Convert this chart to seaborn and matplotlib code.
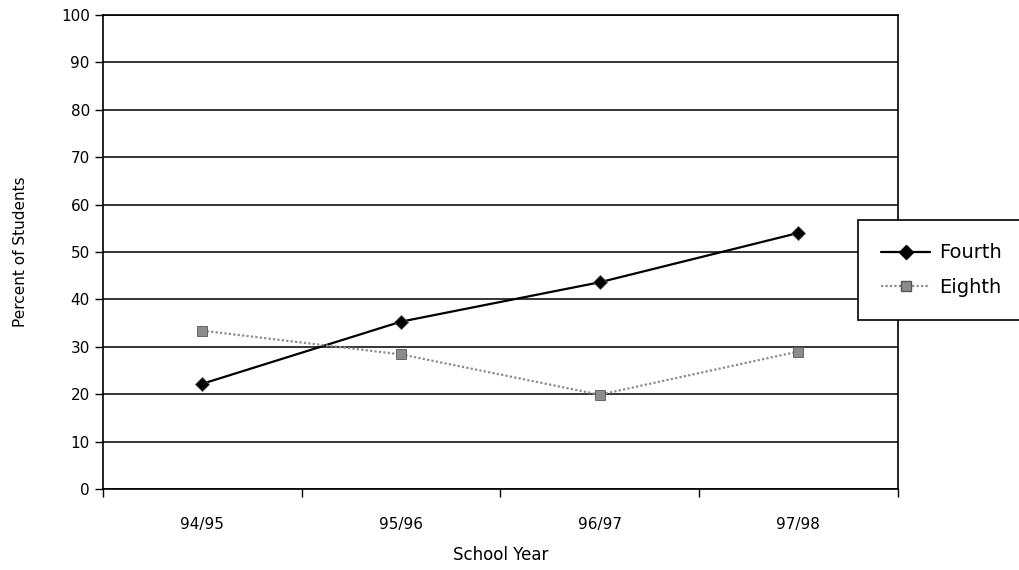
import matplotlib
matplotlib.use("Agg")
import matplotlib.pyplot as plt
import seaborn as sns
import pandas as pd
from matplotlib.ticker import FixedLocator
from matplotlib.lines import Line2D

years = ["94/95", "95/96", "96/97", "97/98"]
fourth = [22.2, 35.3, 43.6, 54.0]
eighth = [33.4, 28.4, 19.9, 29.0]
series_names = ["Fourth", "Eighth"]

df = pd.DataFrame({
    "School Year": years * 2,
    "Percent of Students": fourth + eighth,
    "Grade": [series_names[0]] * len(years) + [series_names[1]] * len(years),
})

sns.set_theme(style="white")
plt.rcParams["font.family"] = ["DejaVu Sans"]
plt.rcParams["text.color"] = "black"

fig = plt.figure(figsize=(10.2, 5.7), dpi=100)
ax = fig.add_axes([0.101, 0.142, 0.779, 0.832])

sns.lineplot(
    data=df, x="School Year", y="Percent of Students", hue="Grade",
    style="Grade", palette={"Fourth": "black", "Eighth": "#8c8c8c"},
    dashes={"Fourth": "", "Eighth": (1, 1)},
    markers={"Fourth": "D", "Eighth": "s"},
    markersize=7, linewidth=1.6, ax=ax, legend=False, sort=False,
    markeredgecolor="#555555", markeredgewidth=0.6,
)

ax.set_xlim(-0.5, len(years) - 0.5)
ax.set_ylim(0, 100)
ax.set_yticks(range(0, 101, 10))
ax.yaxis.grid(True, color="black", linewidth=1.1)
ax.xaxis.grid(False)
for s in ax.spines.values():
    s.set_color("black")
    s.set_linewidth(1.2)

ax.set_xticks(range(len(years)))
ax.set_xticklabels(years)
ax.xaxis.set_minor_locator(FixedLocator([i - 0.5 for i in range(len(years) + 1)]))
ax.tick_params(axis="x", which="major", length=0, pad=20, labelsize=11, colors="black")
ax.tick_params(axis="x", which="minor", length=6, width=1, color="black", direction="out", bottom=True)
ax.tick_params(axis="y", length=6, width=1, direction="out", left=True, labelsize=11, colors="black")

ax.set_xlabel("School Year", fontsize=12, labelpad=10, color="black")
ax.set_ylabel("Percent of Students", fontsize=11, labelpad=24, color="black")

handles = [
    Line2D([], [], color="black", marker="D", markersize=7, linewidth=1.6),
    Line2D([], [], color="#8c8c8c", marker="s", markersize=7, linewidth=1.6,
           linestyle=(0, (1, 1)), markeredgecolor="#555555"),
]
leg = fig.legend(handles, series_names, loc="upper left",
                 bbox_to_anchor=(858 / 1020, 1 - 220 / 570),
                 frameon=True, fancybox=False, fontsize=14, handlelength=2.5,
                 borderpad=1.2, labelspacing=0.8, borderaxespad=0,
                 handletextpad=0.45)
leg.get_frame().set_edgecolor("black")
leg.get_frame().set_linewidth(1.2)
leg.get_frame().set_alpha(1)
for t in leg.get_texts():
    t.set_color("black")

fig.savefig("out.png", dpi=100)
